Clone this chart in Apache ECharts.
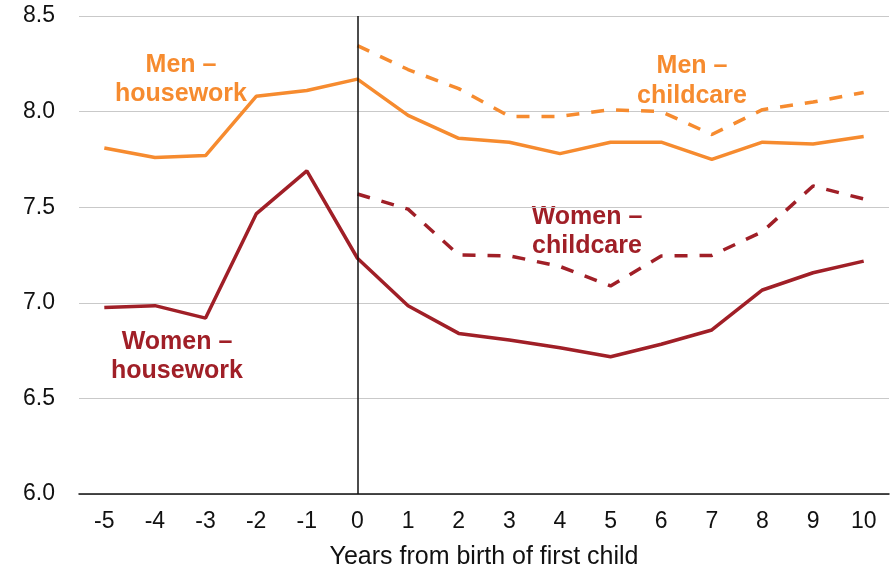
<!DOCTYPE html>
<html>
<head>
<meta charset="utf-8">
<script src="https://cdn.jsdelivr.net/npm/echarts@6/dist/echarts.min.js"></script>
<style>
  html, body { margin: 0; padding: 0; background: #fff; }
  #chart { width: 890px; height: 570px; }
</style>
</head>
<body>
<div id="chart"></div>
<script>
"use strict";
// 横轴：距第一个孩子出生的年数
var years = ['-5', '-4', '-3', '-2', '-1', '0', '1', '2', '3', '4', '5', '6', '7', '8', '9', '10'];
// 男性 家务 / 育儿
var menHousework = [7.81, 7.76, 7.77, 8.08, 8.11, 8.17, 7.98, 7.86, 7.84, 7.78, 7.84, 7.84, 7.75, 7.84, 7.83, 7.87];
var menChildcare = ['-', '-', '-', '-', '-', 8.345, 8.22, 8.12, 7.975, 7.975, 8.01, 8.0, 7.88, 8.01, 8.05, 8.10];
// 女性 家务 / 育儿
var womenHousework = [6.976, 6.985, 6.92, 7.465, 7.69, 7.233, 6.985, 6.84, 6.805, 6.765, 6.718, 6.783, 6.858, 7.067, 7.157, 7.218];
var womenChildcare = ['-', '-', '-', '-', '-', 7.569, 7.49, 7.25, 7.246, 7.19, 7.088, 7.245, 7.248, 7.372, 7.611, 7.543];
var yTicks = { min: 6, max: 8.5, step: 0.5 };

var ORANGE = '#F68B2F';
var RED = '#A01F27';
var FONT = 'Liberation Sans, Arial, sans-serif';

var myChart = echarts.init(document.getElementById('chart'));

function label(text, x, y, color, lh) {
    return {
        type: 'text',
        x: x,
        y: y,
        style: {
            text: text,
            fill: color,
            font: 'bold 25px ' + FONT,
            textAlign: 'center',
            textVerticalAlign: 'middle',
            lineHeight: lh
        }
    };
}

var option = {
    animation: false,
    backgroundColor: '#fff',
    textStyle: { fontFamily: FONT },
    grid: { left: 79, right: 1, top: 16, bottom: 76, containLabel: false, outerBoundsMode: 'none' },
    xAxis: {
        type: 'category',
        data: years,
        boundaryGap: true,
        name: 'Years from birth of first child',
        nameLocation: 'middle',
        nameGap: 51,
        nameTextStyle: { color: '#111', fontSize: 25, fontFamily: FONT },
        axisLine: { lineStyle: { color: '#111', width: 1.5 } },
        axisTick: { show: false },
        axisLabel: { color: '#111', fontSize: 23, margin: 16, fontFamily: FONT },
        splitLine: { show: false }
    },
    yAxis: {
        type: 'value',
        min: yTicks.min,
        max: yTicks.max,
        interval: yTicks.step,
        axisLine: { show: false },
        axisTick: { show: false },
        axisLabel: {
            color: '#111',
            fontSize: 23,
            margin: 24,
            fontFamily: FONT,
            formatter: function(v) { return v.toFixed(1); }
        },
        splitLine: { lineStyle: { color: '#c9c9c9', width: 1 } }
    },
    series: [{
            name: 'Men – housework',
            type: 'line',
            data: menHousework,
            symbol: 'none',
            lineStyle: { color: ORANGE, width: 3.5 },
            z: 3,
            // 第0年的竖线
            markLine: {
                silent: true,
                symbol: 'none',
                label: { show: false },
                lineStyle: { color: '#111', width: 1.5, type: 'solid' },
                data: [{ xAxis: years.indexOf('0') }]
            }
        },
        {
            name: 'Men – childcare',
            type: 'line',
            data: menChildcare,
            symbol: 'none',
            lineStyle: { color: ORANGE, width: 3.5, type: [13, 12] },
            z: 3
        },
        {
            name: 'Women – housework',
            type: 'line',
            data: womenHousework,
            symbol: 'none',
            lineStyle: { color: RED, width: 3.5 },
            z: 3
        },
        {
            name: 'Women – childcare',
            type: 'line',
            data: womenChildcare,
            symbol: 'none',
            lineStyle: { color: RED, width: 3.5, type: [13, 12] },
            z: 3
        }
    ],
    graphic: [
        label('Men –\nhousework', 181, 80, ORANGE, 29),
        label('Men –\nchildcare', 692, 81, ORANGE, 30),
        label('Women –\nhousework', 177, 357, RED, 29),
        label('Women –\nchildcare', 587, 232, RED, 29)
    ]
};
myChart.setOption(option);
</script>
</body>
</html>
